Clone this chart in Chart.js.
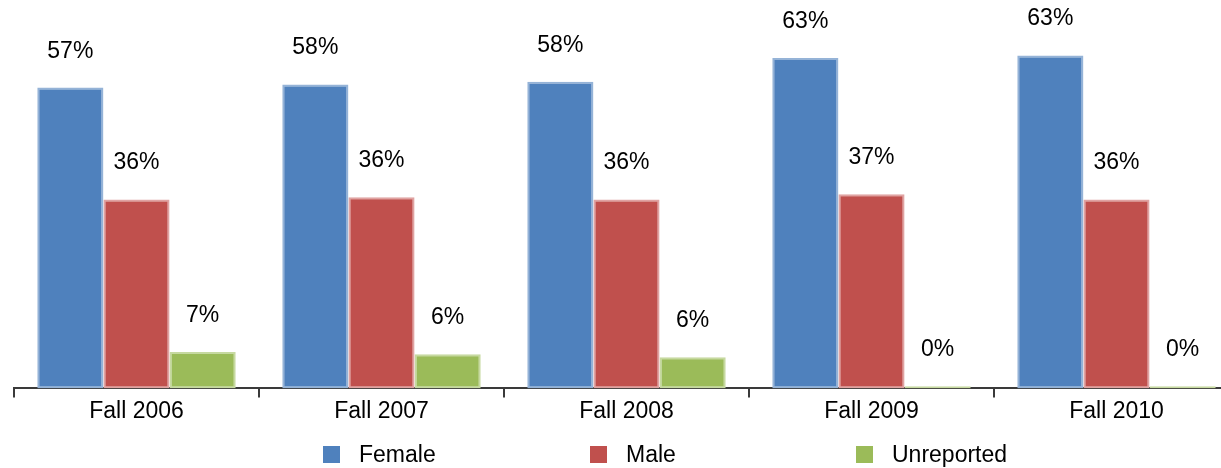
<!DOCTYPE html>
<html lang="en">
<head>
    <meta charset="UTF-8">
    <title>Enrollment by gender</title>
    <script src="https://cdn.jsdelivr.net/npm/chart.js"></script>
    <style>
        html, body { margin: 0; padding: 0; background: #fff; overflow: hidden; }
        #wrap { position: relative; width: 1221px; height: 468px; overflow: hidden; }
        #chart { position: absolute; left: 0; top: 0; }
        .legend-item { position: absolute; top: 443px; font: 23px "Liberation Sans", Arial, sans-serif; line-height: 23px; color: #000; white-space: nowrap; }
        .legend-box { position: absolute; top: 446px; width: 17px; height: 17px; }
    </style>
</head>
<body>
    <div id="wrap">
        <canvas id="chart" width="1240" height="468"></canvas>
        <div id="legend"></div>
    </div>

    <script>
        // data (percent of students)
        const categories = ['Fall 2006', 'Fall 2007', 'Fall 2008', 'Fall 2009', 'Fall 2010'];
        const female = [57.0, 57.6, 58.1, 62.6, 63.1];
        const male = [35.8, 36.2, 35.8, 36.8, 35.8];
        const unreported = [6.9, 6.45, 5.9, 0.4, 0.4];

        const seriesNames = ['Female', 'Male', 'Unreported'];
        const fills = ['#4F81BD', '#C0504D', '#9BBB59'];
        const edges = ['#95B3D7', '#E0A3A2', '#C6D9A0'];
        const FONT = '"Liberation Sans", Arial, sans-serif';

        // percentage labels above each bar
        const valueLabels = {
            id: 'valueLabels',
            afterDatasetsDraw(chart) {
                const ctx = chart.ctx;
                ctx.save();
                ctx.font = '23px ' + FONT;
                ctx.fillStyle = '#000';
                ctx.textAlign = 'center';
                ctx.textBaseline = 'alphabetic';
                chart.data.datasets.forEach((ds, i) => {
                    chart.getDatasetMeta(i).data.forEach((bar, j) => {
                        ctx.fillText(Math.round(ds.data[j]) + '%', bar.x, bar.y - 30);
                    });
                });
                ctx.restore();
            }
        };

        const ctx = document.getElementById('chart').getContext('2d');
        const chart = new Chart(ctx, {
            type: 'bar',
            data: {
                labels: categories,
                datasets: [female, male, unreported].map((d, i) => ({
                    label: seriesNames[i],
                    data: d,
                    backgroundColor: fills[i],
                    borderColor: edges[i],
                    borderWidth: 2,
                    borderSkipped: false,
                    categoryPercentage: 0.81,
                    barPercentage: 1
                }))
            },
            options: {
                responsive: false,
                animation: false,
                devicePixelRatio: 1,
                layout: { padding: { left: 14, right: 1, top: 0, bottom: 43 } },
                plugins: {
                    legend: { display: false },
                    tooltip: { enabled: false }
                },
                scales: {
                    x: {
                        grid: {
                            offset: true,
                            drawOnChartArea: false,
                            drawTicks: true,
                            tickLength: 9,
                            color: '#3a3a3a',
                            lineWidth: 2
                        },
                        border: { display: true, color: '#3a3a3a', width: 2 },
                        ticks: {
                            color: '#000',
                            padding: 0,
                            font: { family: FONT, size: 23 }
                        }
                    },
                    y: {
                        display: false,
                        min: 0,
                        max: 73.6
                    }
                }
            },
            plugins: [valueLabels]
        });

        // legend laid out like the original, spread along the bottom
        const legendLeft = [323, 590, 856];
        const legend = document.getElementById('legend');
        seriesNames.forEach((name, i) => {
            const box = document.createElement('div');
            box.className = 'legend-box';
            box.style.left = legendLeft[i] + 'px';
            box.style.background = fills[i];
            legend.appendChild(box);
            const txt = document.createElement('div');
            txt.className = 'legend-item';
            txt.style.left = (legendLeft[i] + 36) + 'px';
            txt.textContent = name;
            legend.appendChild(txt);
        });
    </script>
</body>
</html>
